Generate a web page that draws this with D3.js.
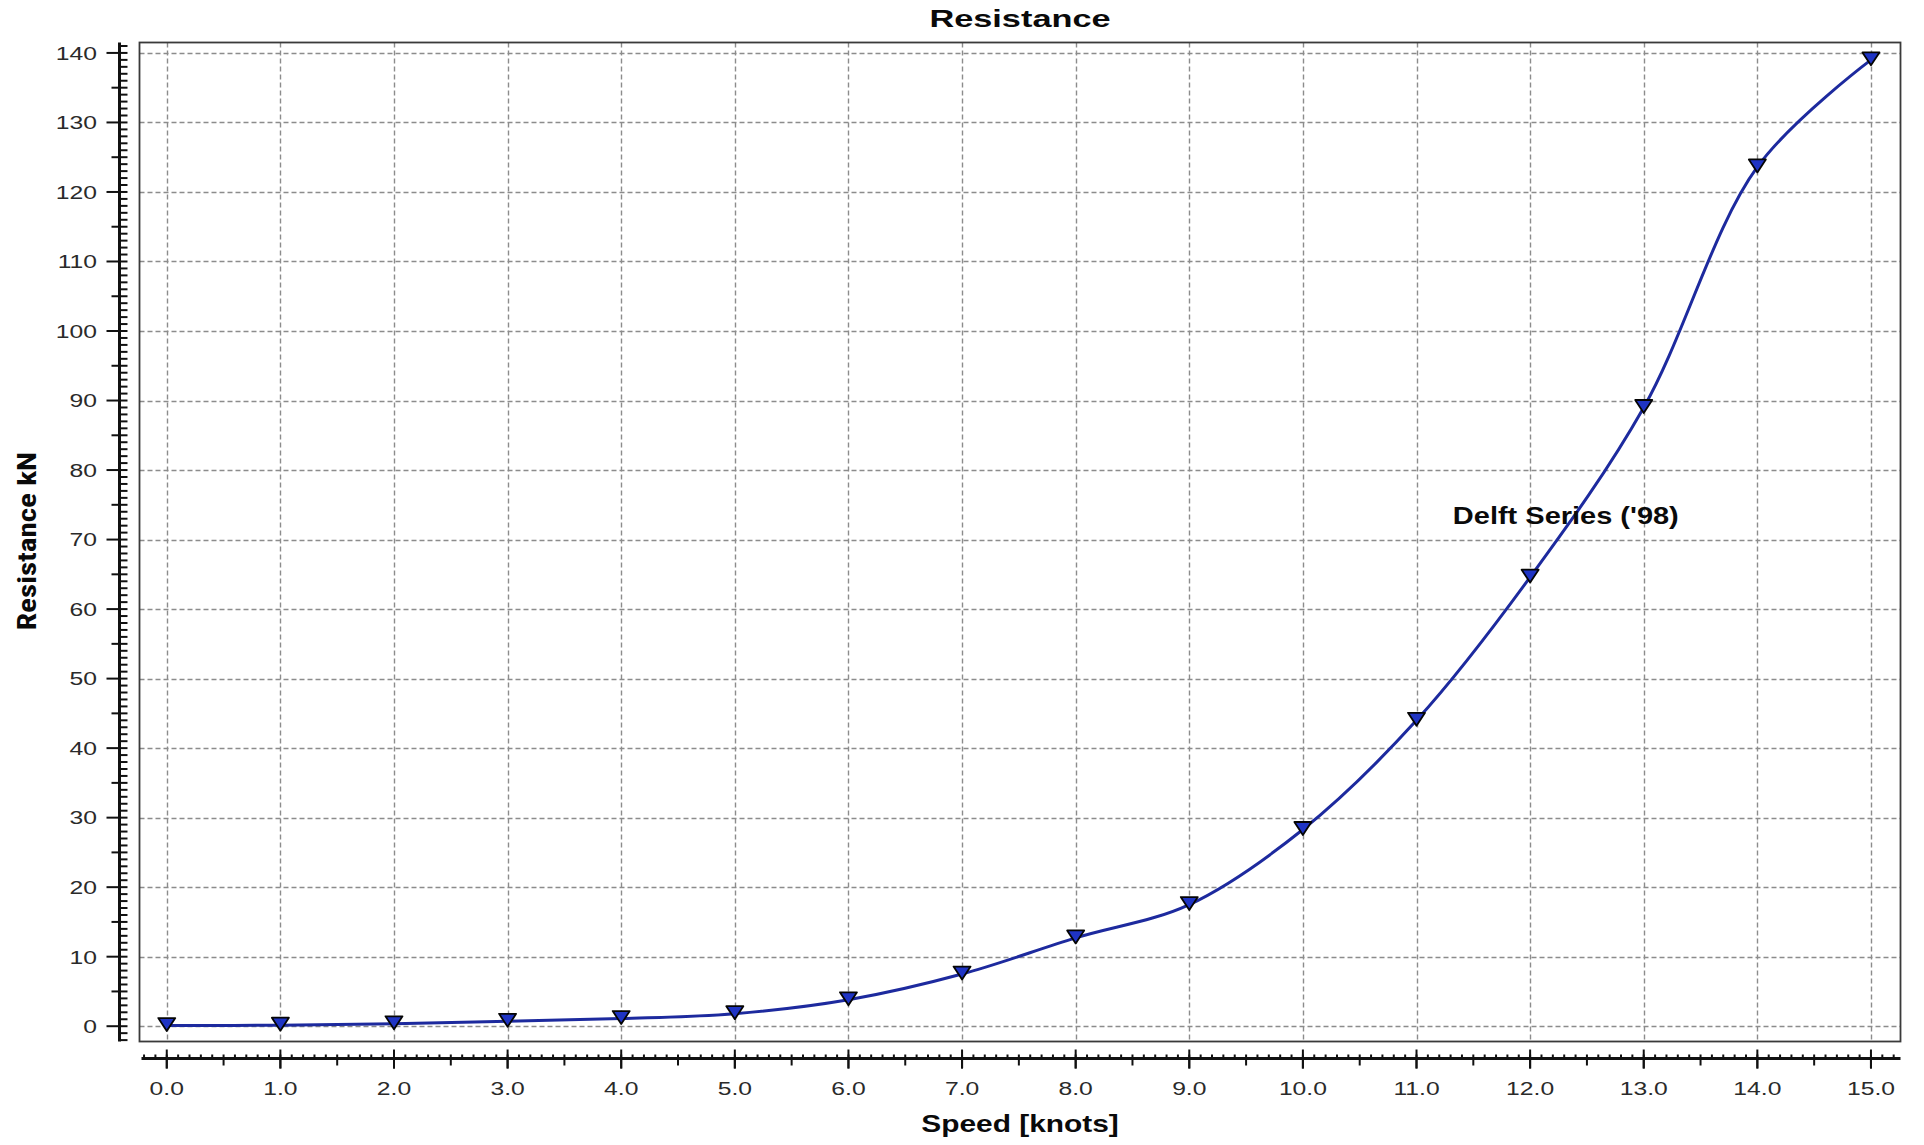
<!DOCTYPE html>
<html>
<head>
<meta charset="utf-8">
<script src="https://cdn.jsdelivr.net/npm/d3@7"></script>
<style>
  html, body { margin: 0; padding: 0; background: #fff; }
  svg { display: block; }
</style>
</head>
<body>
<svg id="chart" width="1924" height="1145"></svg>
<script>
// Speed (knots) and calm-water resistance (kN), Delft Series ('98)
const speeds = [0, 1, 2, 3, 4, 5, 6, 7, 8, 9, 10, 11, 12, 13, 14, 15];
const resistance = [0.1, 0.15, 0.35, 0.7, 1.1, 1.8, 3.8, 7.5, 12.7, 17.5, 28.3, 44.0, 64.6, 89.0, 123.6, 139.0];
const xTickValues = [0, 1, 2, 3, 4, 5, 6, 7, 8, 9, 10, 11, 12, 13, 14, 15];
const yTickValues = [0, 10, 20, 30, 40, 50, 60, 70, 80, 90, 100, 110, 120, 130, 140];
const seriesName = "Delft Series ('98)";
const chartTitle = "Resistance";
const xTitle = "Speed [knots]";
const yTitle = "Resistance kN";

const svg = d3.select("#chart");
const font = "'Liberation Sans', Arial, sans-serif";

// text in this chart style is drawn wide: glyphs are stretched horizontally
function wideText(parent, px, py, str, opts) {
  const o = Object.assign({ size: 19, weight: "normal", anchor: "start", sx: 1.3, fill: "#2a2a2a", dy: "0", family: font, rotate: 0 }, opts);
  return parent.append("text")
    .attr("transform", `translate(${px},${py}) rotate(${o.rotate}) scale(${o.sx},1)`)
    .attr("text-anchor", o.anchor)
    .attr("dy", o.dy)
    .attr("font-family", o.family)
    .attr("font-size", o.size)
    .attr("font-weight", o.weight)
    .attr("fill", o.fill)
    .text(str);
}

// plot frame
const frame = { left: 139.5, right: 1900.5, top: 42.5, bottom: 1041.5 };
const xDomain = [-0.24, 15.26];
const yDomain = [-2.2, 141.5];

const x = d3.scaleLinear().domain(xDomain).range([frame.left, frame.right]);
const y = d3.scaleLinear().domain(yDomain).range([frame.bottom, frame.top]);

// grid
const grid = svg.append("g")
  .attr("stroke", "#8c8c8c").attr("stroke-width", 1.4)
  .attr("stroke-dasharray", "5,3").attr("fill", "none");
grid.selectAll("line.v").data(xTickValues).join("line")
  .attr("x1", d => Math.round(x(d)) + 0.5).attr("x2", d => Math.round(x(d)) + 0.5)
  .attr("y1", frame.top).attr("y2", frame.bottom);
grid.selectAll("line.h").data(yTickValues).join("line")
  .attr("y1", d => Math.round(y(d)) + 0.5).attr("y2", d => Math.round(y(d)) + 0.5)
  .attr("x1", frame.left).attr("x2", frame.right);

// frame border
svg.append("rect")
  .attr("x", frame.left).attr("y", frame.top)
  .attr("width", frame.right - frame.left).attr("height", frame.bottom - frame.top)
  .attr("fill", "none").attr("stroke", "#3a3a3a").attr("stroke-width", 1.8);

// ---- Y axis (detached, left of the frame) ----
const yAxisX = 119.5;
const yAxisG = svg.append("g").attr("stroke", "#111").attr("stroke-width", 2);
yAxisG.append("line")
  .attr("x1", yAxisX).attr("x2", yAxisX)
  .attr("y1", frame.top).attr("y2", frame.bottom).attr("stroke-width", 3);
const yMinor = d3.range(-2, 142, 1);
yAxisG.selectAll("line.minor").data(yMinor).join("line")
  .attr("y1", d => y(d)).attr("y2", d => y(d))
  .attr("x1", d => d % 10 === 0 ? yAxisX - 13 : (d % 5 === 0 ? yAxisX - 8 : yAxisX))
  .attr("x2", yAxisX + 8);
const yLabels = svg.append("g");
yTickValues.forEach(v => {
  wideText(yLabels, 97, y(v), String(v), { anchor: "end", dy: "0.36em", sx: 1.3 });
});

// ---- X axis (detached, below the frame) ----
const xAxisY = 1058.5;
const xAxisG = svg.append("g").attr("stroke", "#111").attr("stroke-width", 2);
xAxisG.append("line")
  .attr("x1", frame.left + 2).attr("x2", frame.right)
  .attr("y1", xAxisY).attr("y2", xAxisY).attr("stroke-width", 3);
const xMinor = d3.range(-2, 153, 1).map(d => d / 10);
xAxisG.selectAll("line.minor").data(xMinor).join("line")
  .attr("x1", d => x(d)).attr("x2", d => x(d))
  .attr("y1", xAxisY - 4)
  .attr("y2", d => {
    const k = Math.round(d * 10);
    return k % 10 === 0 ? xAxisY + 10 : (k % 5 === 0 ? xAxisY + 7 : xAxisY);
  });
xAxisG.selectAll("line.major").data(xTickValues).join("line")
  .attr("x1", d => x(d)).attr("x2", d => x(d))
  .attr("y1", xAxisY - 9).attr("y2", xAxisY + 10);
const xLabels = svg.append("g");
xTickValues.forEach(v => {
  wideText(xLabels, x(v), 1088, v.toFixed(1), { anchor: "middle", dy: "0.36em", sx: 1.3 });
});

// ---- series ----
const pts = speeds.map((s, i) => [s, resistance[i]]);
const line = d3.line()
  .x(d => x(d[0])).y(d => y(d[1]))
  .curve(d3.curveCatmullRom.alpha(0.5));
svg.append("path")
  .datum(pts)
  .attr("d", line)
  .attr("fill", "none")
  .attr("stroke", "#1d2a9e")
  .attr("stroke-width", 3)
  .attr("stroke-linejoin", "round");

// downward triangle centred on its bounding box
const triDown = {
  draw(ctx, size) {
    const w = Math.sqrt(size), h = w * 0.76;
    ctx.moveTo(-w / 2, -h / 2);
    ctx.lineTo(w / 2, -h / 2);
    ctx.lineTo(0, h / 2);
    ctx.closePath();
  }
};
svg.append("g").selectAll("path").data(pts).join("path")
  .attr("transform", d => `translate(${x(d[0])},${y(d[1]) - 1})`)
  .attr("d", d3.symbol(triDown, 290))
  .attr("fill", "#1f34c4")
  .attr("stroke", "#050505")
  .attr("stroke-width", 1.8)
  .attr("stroke-linejoin", "round");

// series annotation
const labelAt = { speed: 11.32, value: 72.2 };
wideText(svg, x(labelAt.speed), y(labelAt.value), seriesName,
  { size: 23, weight: "bold", sx: 1.26, fill: "#0a0a0a" });

// titles
const midX = (frame.left + frame.right) / 2;
wideText(svg, midX, 27, chartTitle, { size: 24, weight: "bold", anchor: "middle", sx: 1.43, fill: "#0a0a0a" });
wideText(svg, midX, 1132, xTitle, { size: 23, weight: "bold", anchor: "middle", sx: 1.3, fill: "#0a0a0a" });
svg.append("text")
  .attr("transform", "translate(36,541) rotate(-90) scale(1.2,1)")
  .attr("text-anchor", "middle")
  .attr("font-family", "'Liberation Sans Narrow', 'Arial Narrow', 'Roboto Condensed', sans-serif")
  .attr("font-size", 26).attr("font-weight", "bold")
  .attr("fill", "#0a0a0a")
  .text(yTitle);
</script>
</body>
</html>
